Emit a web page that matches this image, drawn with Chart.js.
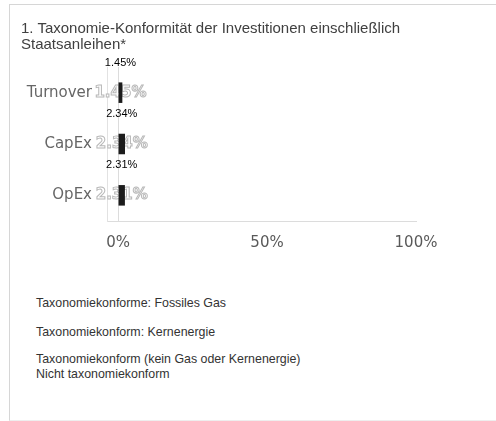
<!DOCTYPE html>
<html>
<head>
<meta charset="utf-8">
<script src="https://cdn.jsdelivr.net/npm/chart.js"></script>
<style>
  body { margin: 0; background: #fff; width: 496px; height: 421px; overflow: hidden; position: relative; }
  .frame { position: absolute; left: 9px; top: 4px; width: 520px; height: 415px; border: 1px solid #d6d6d6; border-bottom-color: #eeeeee; }
  .title { position: absolute; left: 21px; top: 20px; font: 15px "Liberation Sans", Arial, sans-serif; color: #404040; line-height: 16px; }
  .wrap { position: absolute; left: 0; top: 0; width: 496px; height: 275px; }
  .legend div { position: absolute; left: 36px; font: 12.4px "Liberation Sans", Arial, sans-serif; color: #333; white-space: nowrap; }
</style>
</head>
<body>
<div class="frame"></div>
<div class="wrap"><canvas id="chart_tax"></canvas></div>
<div class="title">1. Taxonomie-Konformität der Investitionen einschließlich<br>Staatsanleihen*</div>
<div class="legend" id="legend"></div>
<script>
// Data
const categories = ['Turnover', 'CapEx', 'OpEx'];
const alignedValues = [1.45, 2.34, 2.31];
const tickValues = [0, 50, 100];
const legendLabels = [
  'Taxonomiekonforme: Fossiles Gas',
  'Taxonomiekonform: Kernenergie',
  'Taxonomiekonform (kein Gas oder Kernenergie)',
  'Nicht taxonomiekonform'
];
const legendTops = [296, 325, 352, 367];

const fmt = v => v.toFixed(2) + '%';

// legend lines (text only, as in the reference)
const legend = document.getElementById('legend');
legendLabels.forEach((t, i) => {
  const d = document.createElement('div');
  d.textContent = t;
  d.style.top = legendTops[i] + 'px';
  legend.appendChild(d);
});

// labels: hollow one over the bar, black one above it
const barLabels = {
  id: 'barLabels',
  beforeDatasetsDraw(chart) {
    const ctx = chart.ctx;
    chart.getDatasetMeta(0).data.forEach((bar, i) => {
      const cx = (bar.x + bar.base) / 2;
      ctx.save();
      ctx.font = 'bold 15px "DejaVu Sans"';
      ctx.textAlign = 'center';
      ctx.textBaseline = 'middle';
      ctx.fillStyle = '#ffffff';
      ctx.strokeStyle = '#b8b8b8';
      ctx.lineWidth = 1;
      ctx.fillText(fmt(alignedValues[i]), cx, bar.y);
      ctx.strokeText(fmt(alignedValues[i]), cx, bar.y);
      ctx.restore();
    });
  },
  afterDatasetsDraw(chart) {
    const ctx = chart.ctx;
    chart.getDatasetMeta(0).data.forEach((bar, i) => {
      const cx = (bar.x + bar.base) / 2;
      ctx.save();
      ctx.font = '11px "Liberation Sans"';
      ctx.textAlign = 'center';
      ctx.textBaseline = 'middle';
      ctx.fillStyle = '#000';
      ctx.fillText(fmt(alignedValues[i]), cx, bar.y - 30);
      ctx.restore();
    });
  }
};

new Chart('chart_tax', {
  type: 'bar',
  data: {
    labels: categories,
    datasets: [{
      label: legendLabels[2],
      data: alignedValues,
      backgroundColor: '#1c1c1c',
      barPercentage: 0.4,
      categoryPercentage: 1
    }]
  },
  plugins: [barLabels],
  options: {
    indexAxis: 'y',
    responsive: true,
    maintainAspectRatio: false,
    animation: false,
    layout: { padding: { top: 67, right: 80, bottom: 10, left: 0 } },
    plugins: {
      legend: { display: false },
      tooltip: { enabled: false },
      title: { display: false }
    },
    scales: {
      x: {
        min: -3.7,
        max: 100,
        afterBuildTicks: s => { s.ticks = tickValues.map(v => ({ value: v })); },
        ticks: {
          padding: 13,
          color: '#595959',
          font: { family: 'DejaVu Sans', size: 15 },
          callback: v => v + '%'
        },
        grid: {
          drawTicks: false,
          color: c => (c.tick && c.tick.value === 0) ? '#dcdcdc' : 'rgba(0,0,0,0)'
        },
        border: { display: true, color: '#dcdcdc' }
      },
      y: {
        afterFit: s => { s.width = 107; },
        ticks: {
          padding: 15,
          color: '#666666',
          font: { family: 'DejaVu Sans', size: 15 }
        },
        grid: { display: false, drawTicks: false },
        border: { display: true, color: '#e2e2e2' }
      }
    }
  }
});
</script>
</body>
</html>
